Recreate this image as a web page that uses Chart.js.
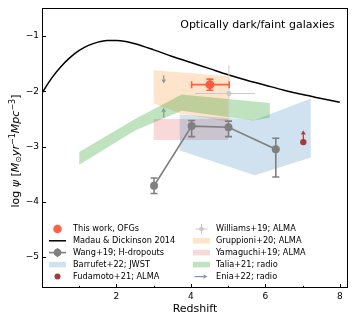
<!DOCTYPE html>
<html><head><meta charset="utf-8">
<script src="https://cdn.jsdelivr.net/npm/chart.js@4.4.0/dist/chart.umd.min.js"></script>
<style>html,body{margin:0;padding:0;background:#fff}#c{display:block}</style>
</head><body>
<canvas id="c" width="357" height="323"></canvas>
<script>
// ---------- data ----------
const xTickValues = [2, 4, 6, 8];
const xMinorTickValues = [1, 3, 5, 7];
const yTickValues = [-5, -4, -3, -2, -1];

// Madau & Dickinson 2014 curve
const madauZ = [0,0.25,0.5,0.75,1,1.25,1.5,1.75,2,2.25,2.5,3,3.5,4,4.5,5,5.5,6,6.5,7,7.5,8];
const madauLogPsi = [-2.03,-1.77,-1.56,-1.39,-1.26,-1.17,-1.11,-1.08,-1.08,-1.10,-1.14,-1.25,-1.37,-1.48,-1.59,-1.70,-1.80,-1.89,-1.98,-2.06,-2.13,-2.20];

// Wang+19; H-dropouts
const wangZ = [3.01, 4.02, 5.01, 6.28];
const wangLogPsi = [-3.71, -2.63, -2.65, -3.05];
const wangErrLow = [0.14, 0.19, 0.17, 0.50];
const wangErrHigh = [0.14, 0.10, 0.11, 0.20];

// This work, OFGs
const thisWorkZ = [4.51];
const thisWorkLogPsi = [-1.88];
const thisWorkZLow = [4.02];
const thisWorkZHigh = [5.03];
const thisWorkErr = [0.10];

// Williams+19; ALMA
const williamsZ = [5.02];
const williamsLogPsi = [-2.04];
const williamsZLow = [4.11];
const williamsZHigh = [5.72];
const williamsErrLow = [0.52];
const williamsErrHigh = [0.51];

// Fudamoto+21; ALMA (lower limit)
const fudamotoZ = [7.02];
const fudamotoLogPsi = [-2.92];
const fudamotoArrowTo = [-2.71];

// Enia+22; radio (limits)
const eniaZ = [3.27, 3.27];
const eniaFrom = [-1.71, -2.48];
const eniaTo = [-1.86, -2.30];

// shaded regions (polygon vertices)
const gruppioniZ = [3.0, 5.0, 5.0, 3.7, 3.0, 3.0];
const gruppioniLogPsi = [-1.62, -1.73, -2.55, -2.40, -2.22, -1.62];
const yamaguchiZ = [3.0, 5.0, 5.0, 3.0, 3.0];
const yamaguchiLogPsi = [-2.50, -2.50, -2.88, -2.88, -2.50];
const taliaZ = [1.0, 2.5, 3.75, 6.12, 6.12, 5.67, 3.75, 2.5, 1.0, 1.0];
const taliaLogPsi = [-3.10, -2.50, -2.06, -2.21, -2.48, -2.53, -2.35, -2.71, -3.33, -3.10];
const barrufetZ = [3.7, 5.72, 7.22, 7.22, 5.72, 3.7, 3.7];
const barrufetLogPsi = [-2.42, -2.52, -2.13, -3.20, -3.52, -3.07, -2.42];

// ---------- styling ----------
const FONT = "'DejaVu Sans', sans-serif";
const C = {
  gruppioni: 'rgba(255,127,14,0.21)',
  yamaguchi: 'rgba(214,39,40,0.18)',
  talia: 'rgba(44,160,44,0.30)',
  barrufet: 'rgba(31,119,180,0.21)',
  wang: '#7f7f7f',
  thisWork: 'rgba(255,85,55,0.92)',
  williams: '#c9c9c9',
  fudamoto: '#a8383a',
  enia: '#8396a8'
};

const P = (xs, ys) => xs.map((x, i) => ({x: x, y: ys[i]}));
const poly = (label, xs, ys, color, order) => ({
  label, data: P(xs, ys), showLine: true, fill: 'shape', backgroundColor: color,
  borderColor: 'rgba(0,0,0,0)', borderWidth: 0, pointRadius: 0, tension: 0, order
});

function seg(ctx, x1, y1, x2, y2) { ctx.beginPath(); ctx.moveTo(x1, y1); ctx.lineTo(x2, y2); ctx.stroke(); }
function arrow(ctx, x1, y1, x2, y2, color, lw, hl, hw) {
  const a = Math.atan2(y2 - y1, x2 - x1);
  ctx.save();
  ctx.strokeStyle = color; ctx.fillStyle = color; ctx.lineWidth = lw;
  const bx = x2 - hl * Math.cos(a), by = y2 - hl * Math.sin(a);
  seg(ctx, x1, y1, bx, by);
  ctx.beginPath();
  ctx.moveTo(x2, y2);
  ctx.lineTo(bx + hw * Math.sin(a), by - hw * Math.cos(a));
  ctx.lineTo(bx - hw * Math.sin(a), by + hw * Math.cos(a));
  ctx.closePath(); ctx.fill();
  ctx.restore();
}

const extras = {
  id: 'extras',
  beforeDatasetDraw(chart, args) {
    const ds = chart.data.datasets[args.index];
    const xS = chart.scales.x, yS = chart.scales.y, ctx = chart.ctx;
    ctx.save();
    ctx.beginPath();
    ctx.rect(chart.chartArea.left, chart.chartArea.top, chart.chartArea.width, chart.chartArea.height);
    ctx.clip();
    if (ds.label === 'Wang+19; H-dropouts') {
      ctx.strokeStyle = C.wang; ctx.lineWidth = 1.6;
      wangZ.forEach((z, i) => {
        const px = xS.getPixelForValue(z);
        const y1 = yS.getPixelForValue(wangLogPsi[i] + wangErrHigh[i]);
        const y2 = yS.getPixelForValue(wangLogPsi[i] - wangErrLow[i]);
        seg(ctx, px, y1, px, y2); seg(ctx, px - 3.5, y1, px + 3.5, y1); seg(ctx, px - 3.5, y2, px + 3.5, y2);
      });
    }
    if (ds.label === 'Williams+19; ALMA') {
      ctx.strokeStyle = C.williams; ctx.lineWidth = 1;
      williamsZ.forEach((z, i) => {
        const px = xS.getPixelForValue(z), py = yS.getPixelForValue(williamsLogPsi[i]);
        seg(ctx, xS.getPixelForValue(williamsZLow[i]), py, xS.getPixelForValue(williamsZHigh[i]), py);
        seg(ctx, px, yS.getPixelForValue(williamsLogPsi[i] + williamsErrHigh[i]), px, yS.getPixelForValue(williamsLogPsi[i] - williamsErrLow[i]));
      });
    }
    if (ds.label === 'This work, OFGs') {
      ctx.strokeStyle = C.thisWork; ctx.lineWidth = 1.6;
      thisWorkZ.forEach((z, i) => {
        const px = xS.getPixelForValue(z), py = yS.getPixelForValue(thisWorkLogPsi[i]);
        const xa = xS.getPixelForValue(thisWorkZLow[i]), xb = xS.getPixelForValue(thisWorkZHigh[i]);
        const ya = yS.getPixelForValue(thisWorkLogPsi[i] + thisWorkErr[i]), yb = yS.getPixelForValue(thisWorkLogPsi[i] - thisWorkErr[i]);
        seg(ctx, xa, py, xb, py); seg(ctx, xa, py - 3.5, xa, py + 3.5); seg(ctx, xb, py - 3.5, xb, py + 3.5);
        seg(ctx, px, ya, px, yb); seg(ctx, px - 3.5, ya, px + 3.5, ya); seg(ctx, px - 3.5, yb, px + 3.5, yb);
      });
    }
    if (ds.label === 'Fudamoto+21; ALMA') {
      fudamotoZ.forEach((z, i) => {
        const px = xS.getPixelForValue(z);
        arrow(ctx, px, yS.getPixelForValue(fudamotoLogPsi[i]), px, yS.getPixelForValue(fudamotoArrowTo[i]), C.fudamoto, 1.2, 4, 2.5);
      });
    }
    ctx.restore();
  },
  afterDatasetsDraw(chart) {
    const xS = chart.scales.x, yS = chart.scales.y, ctx = chart.ctx;
    eniaZ.forEach((z, i) => {
      const px = xS.getPixelForValue(z);
      arrow(ctx, px, yS.getPixelForValue(eniaFrom[i]), px, yS.getPixelForValue(eniaTo[i]), C.enia, 1.2, 4, 2.3);
    });
  },
  afterDraw(chart) {
    const ctx = chart.ctx, a = chart.chartArea, xS = chart.scales.x, yS = chart.scales.y;
    ctx.save();
    // frame
    ctx.strokeStyle = '#000'; ctx.lineWidth = 1;
    ctx.strokeRect(Math.round(a.left) + 0.5, Math.round(a.top) + 0.5, Math.round(a.width) - 1, Math.round(a.height) - 1);
    // inward ticks
    ctx.lineWidth = 1;
    xTickValues.forEach(v => { const x = Math.round(xS.getPixelForValue(v)) + 0.5; seg(ctx, x, a.bottom, x, a.bottom - 4); });
    xMinorTickValues.forEach(v => { const x = Math.round(xS.getPixelForValue(v)) + 0.5; seg(ctx, x, a.bottom, x, a.bottom - 2.2); });
    yTickValues.forEach(v => { const y = Math.round(yS.getPixelForValue(v)) + 0.5; seg(ctx, a.left, y, a.left + 4, y); });

    // title text
    ctx.fillStyle = '#000';
    ctx.font = '11px ' + FONT;
    ctx.textAlign = 'right'; ctx.textBaseline = 'alphabetic';
    ctx.fillText('Optically dark/faint galaxies', 334.5, 27.5);

    // x axis title
    ctx.textAlign = 'center'; ctx.textBaseline = 'alphabetic';
    ctx.font = '11px ' + FONT;
    ctx.fillText('Redshift', (a.left + a.right) / 2, 311.5);

    // y axis title (mixed fonts)
    const parts = [
      {t: 'log ', f: '11px ' + FONT, dy: 0},
      {t: 'ψ', f: 'italic 11px ' + FONT, dy: 0},
      {t: ' [', f: '11px ' + FONT, dy: 0},
      {t: 'M', f: 'italic 11px ' + FONT, dy: 0},
      {t: '⊙', f: '8px ' + FONT, dy: 2.2},
      {t: 'yr', f: 'italic 11px ' + FONT, dy: 0},
      {t: '−1', f: '8px ' + FONT, dy: -4},
      {t: 'Mpc', f: 'italic 11px ' + FONT, dy: 0},
      {t: '−3', f: '8px ' + FONT, dy: -4},
      {t: ']', f: '11px ' + FONT, dy: 0}
    ];
    let total = 0;
    parts.forEach(p => { ctx.font = p.f; p.w = ctx.measureText(p.t).width; total += p.w; });
    ctx.translate(18.5, 151);
    ctx.rotate(-Math.PI / 2);
    ctx.textAlign = 'left'; ctx.textBaseline = 'alphabetic';
    let cx = -total / 2;
    parts.forEach(p => { ctx.font = p.f; ctx.fillText(p.t, cx, p.dy); cx += p.w; });
    ctx.setTransform(1, 0, 0, 1, 0, 0);

    // legend
    ctx.font = '8.2px ' + FONT;
    ctx.textAlign = 'left'; ctx.textBaseline = 'middle';
    const rows = [229, 240.8, 252.6, 264.6, 276.6];
    const lx = 57.5, ltx = 73, rx = 201.5, rtx = 216;
    // left column
    ctx.fillStyle = C.thisWork; ctx.beginPath(); ctx.arc(lx, rows[0], 4.3, 0, 2 * Math.PI); ctx.fill();
    ctx.strokeStyle = '#000'; ctx.lineWidth = 1.5; seg(ctx, 49, rows[1], 66, rows[1]);
    ctx.strokeStyle = C.wang; ctx.lineWidth = 1.6; seg(ctx, 49, rows[2], 66, rows[2]);
    seg(ctx, lx, rows[2] - 4.5, lx, rows[2] + 4.5);
    ctx.fillStyle = C.wang; ctx.beginPath(); ctx.arc(lx, rows[2], 3.8, 0, 2 * Math.PI); ctx.fill();
    ctx.fillStyle = C.barrufet; ctx.fillRect(49, rows[3] - 2.8, 17, 5.6);
    ctx.fillStyle = C.fudamoto; ctx.beginPath(); ctx.arc(lx, rows[4], 3, 0, 2 * Math.PI); ctx.fill();
    // right column
    ctx.strokeStyle = C.williams; ctx.lineWidth = 1;
    seg(ctx, rx - 6, rows[0], rx + 6, rows[0]); seg(ctx, rx, rows[0] - 5, rx, rows[0] + 5);
    ctx.fillStyle = C.williams; ctx.beginPath(); ctx.arc(rx, rows[0], 2.3, 0, 2 * Math.PI); ctx.fill();
    ctx.fillStyle = C.gruppioni; ctx.fillRect(193, rows[1] - 2.8, 17, 5.6);
    ctx.fillStyle = C.yamaguchi; ctx.fillRect(193, rows[2] - 2.8, 17, 5.6);
    ctx.fillStyle = C.talia; ctx.fillRect(193, rows[3] - 2.8, 17, 5.6);
    arrow(ctx, 194.5, rows[4], 207.5, rows[4], C.enia, 1.2, 4, 2.2);

    const ds = chart.data.datasets;
    const leftLabels = ['This work, OFGs', 'Madau & Dickinson 2014', 'Wang+19; H-dropouts', 'Barrufet+22; JWST', 'Fudamoto+21; ALMA'];
    const rightLabels = ['Williams+19; ALMA', 'Gruppioni+20; ALMA', 'Yamaguchi+19; ALMA', 'Talia+21; radio', 'Enia+22; radio'];
    ctx.fillStyle = '#000';
    ctx.font = '8.2px ' + FONT;
    leftLabels.forEach((t, i) => ctx.fillText(ds.find(d => d.label === t).label, ltx, rows[i]));
    rightLabels.forEach((t, i) => ctx.fillText(ds.find(d => d.label === t).label, rtx, rows[i]));
    ctx.restore();
  }
};

const minus = v => (v < 0 ? '−' : '') + Math.abs(v);

new Chart(document.getElementById('c'), {
  type: 'scatter',
  data: {
    datasets: [
      {label: 'This work, OFGs', data: P(thisWorkZ, thisWorkLogPsi), pointRadius: 4.5, pointBackgroundColor: C.thisWork, pointBorderWidth: 0, order: 0},
      {label: 'Fudamoto+21; ALMA', data: P(fudamotoZ, fudamotoLogPsi), pointRadius: 3.2, pointBackgroundColor: C.fudamoto, pointBorderWidth: 0, order: 1},
      {label: 'Wang+19; H-dropouts', data: P(wangZ, wangLogPsi), showLine: true, borderColor: C.wang, borderWidth: 1.6, pointRadius: 4, pointBackgroundColor: C.wang, pointBorderWidth: 0, order: 2},
      {label: 'Williams+19; ALMA', data: P(williamsZ, williamsLogPsi), pointRadius: 2.5, pointBackgroundColor: C.williams, pointBorderWidth: 0, order: 3},
      {label: 'Madau & Dickinson 2014', data: P(madauZ, madauLogPsi), showLine: true, borderColor: '#000', borderWidth: 1.5, pointRadius: 0, cubicInterpolationMode: 'monotone', order: 4},
      {label: 'Enia+22; radio', data: [], order: 5},
      poly('Talia+21; radio', taliaZ, taliaLogPsi, C.talia, 10),
      poly('Barrufet+22; JWST', barrufetZ, barrufetLogPsi, C.barrufet, 11),
      poly('Yamaguchi+19; ALMA', yamaguchiZ, yamaguchiLogPsi, C.yamaguchi, 12),
      poly('Gruppioni+20; ALMA', gruppioniZ, gruppioniLogPsi, C.gruppioni, 13)
    ]
  },
  options: {
    animation: false, responsive: false, devicePixelRatio: 1,
    layout: {padding: {top: 8, right: 9, left: 0, bottom: 0}},
    plugins: {legend: {display: false}, tooltip: {enabled: false}},
    scales: {
      x: {
        type: 'linear', min: 0, max: 8.22,
        afterBuildTicks: s => { s.ticks = xTickValues.map(v => ({value: v})); },
        afterFit: s => { s.height = 35; },
        ticks: {font: {size: 9, family: FONT}, color: '#000', padding: 3, maxRotation: 0, callback: minus},
        grid: {display: false, drawTicks: false}, border: {display: false}
      },
      y: {
        type: 'linear', min: -5.56, max: -0.5,
        afterBuildTicks: s => { s.ticks = yTickValues.map(v => ({value: v})); },
        afterFit: s => { s.width = 42; },
        ticks: {font: {size: 9, family: FONT}, color: '#000', padding: 3, callback: minus},
        grid: {display: false, drawTicks: false}, border: {display: false}
      }
    }
  },
  plugins: [extras]
});
</script>
</body></html>
